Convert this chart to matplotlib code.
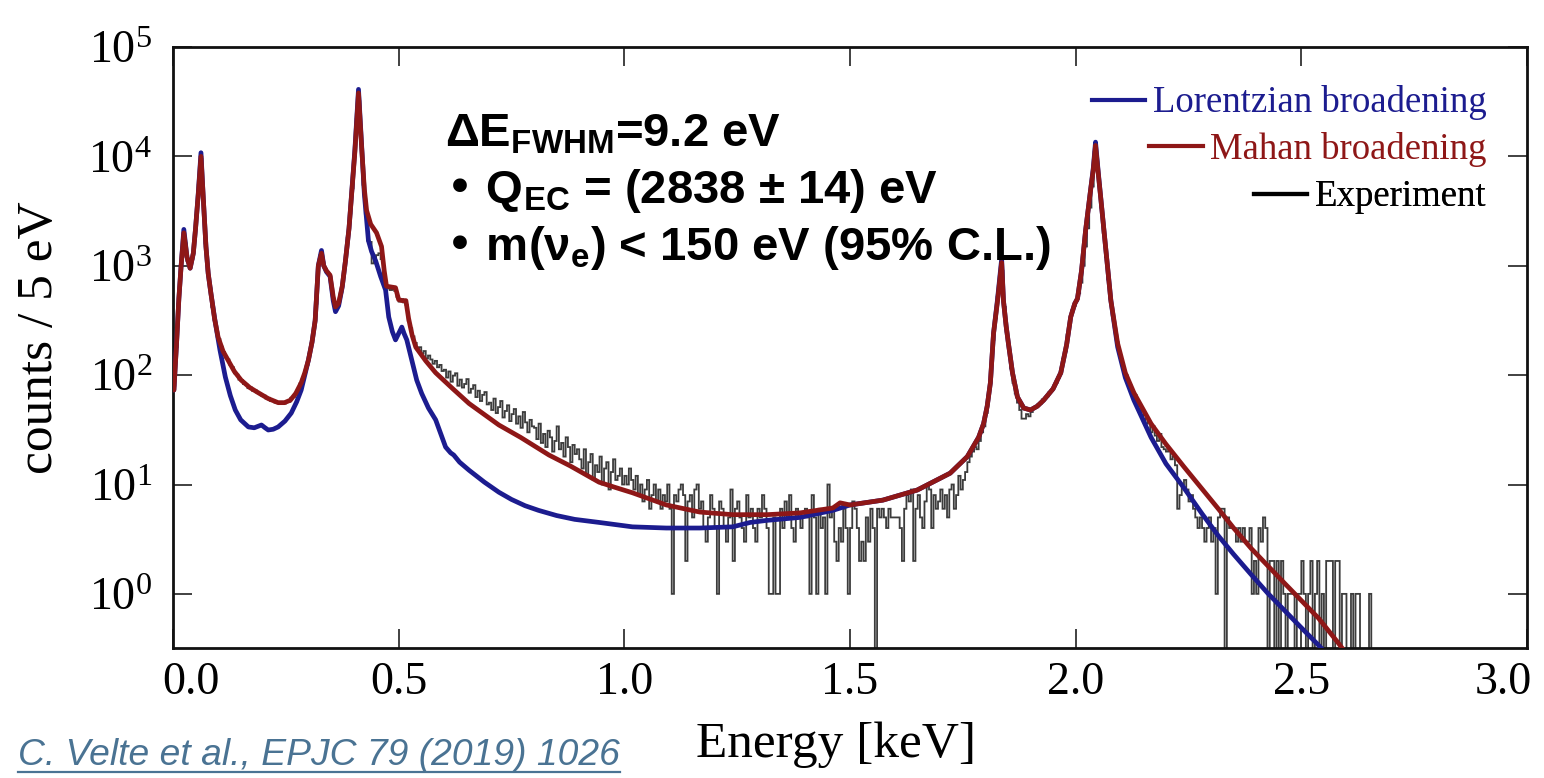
import numpy as np
import matplotlib
matplotlib.use("Agg")
import matplotlib.pyplot as plt
import matplotlib.transforms as mtransforms
from matplotlib.ticker import FixedLocator, NullLocator, FormatStrFormatter
from matplotlib.lines import Line2D

# ---------------------------------------------------------------------------
# Model curves (energy in keV, counts per 5 eV)
# ---------------------------------------------------------------------------
mahan_energy = [
    0.002, 0.008, 0.013, 0.018, 0.024, 0.031, 0.038, 0.045, 0.050, 0.056,
    0.062, 0.067, 0.073, 0.078, 0.084, 0.092, 0.100, 0.111, 0.122, 0.136,
    0.151, 0.170, 0.189, 0.211, 0.233, 0.247, 0.260, 0.272, 0.284, 0.292,
    0.300, 0.308, 0.315, 0.322, 0.329, 0.334, 0.340, 0.348, 0.355, 0.360,
    0.367, 0.375, 0.382, 0.390, 0.396, 0.403, 0.411, 0.418, 0.424, 0.429,
    0.438, 0.451, 0.462, 0.468, 0.473, 0.483, 0.493, 0.500, 0.508, 0.516,
    0.522, 0.530, 0.538, 0.560, 0.582, 0.620, 0.656, 0.722, 0.770, 0.833,
    0.880, 0.944, 0.980, 1.018, 1.093, 1.167, 1.240, 1.316, 1.389, 1.462,
    1.478, 1.500, 1.573, 1.649, 1.722, 1.760, 1.785, 1.796, 1.804, 1.811,
    1.818, 1.827, 1.836, 1.840, 1.846, 1.851, 1.860, 1.871, 1.885, 1.900,
    1.915, 1.929, 1.950, 1.967, 1.980, 1.989, 1.998, 2.004, 2.013, 2.022,
    2.033, 2.039, 2.044, 2.050, 2.056, 2.067, 2.078, 2.093, 2.110, 2.129,
    2.167, 2.200, 2.240, 2.280, 2.316, 2.350, 2.389, 2.425, 2.462, 2.500,
    2.538, 2.582, 2.620,
]
mahan_counts = [
    73, 200, 500, 1000, 2000, 1200, 950, 1300, 2200, 4500,
    10000, 4200, 1500, 850, 560, 330, 222, 165, 137, 108,
    90, 77, 69, 61, 56, 56, 59, 68, 85, 105,
    137, 200, 316, 1000, 1300, 1000, 900, 820, 520, 420,
    455, 650, 1100, 2200, 4600, 11000, 38000, 12000, 5000, 3200,
    2400, 2000, 1500, 900, 650, 640, 630, 490, 480, 480,
    330, 230, 180, 135, 105, 75, 55, 35, 27, 18.6,
    14.8, 10.5, 9.4, 8.4, 6.5, 5.6, 5.3, 5.3, 5.5, 6.1,
    6.8, 6.5, 7.2, 8.9, 12.7, 18, 27, 36, 52, 85,
    240, 480, 1070, 480, 280, 195, 105, 63, 50, 48,
    52, 59, 75, 105, 190, 340, 450, 500, 900, 2100,
    4900, 7500, 12600, 7000, 4000, 1400, 480, 195, 105, 69,
    36, 23.4, 14.5, 9.1, 6.0, 4.0, 2.6, 1.82, 1.26, 0.87,
    0.60, 0.355, 0.22,
]

lorentz_energy = [
    0.002, 0.008, 0.013, 0.018, 0.024, 0.031, 0.038, 0.045, 0.050, 0.056,
    0.062, 0.067, 0.073, 0.078, 0.084, 0.093, 0.104, 0.116, 0.127, 0.138,
    0.150, 0.167, 0.180, 0.196, 0.204, 0.211, 0.222, 0.233, 0.248, 0.262,
    0.274, 0.284, 0.292, 0.300, 0.308, 0.315, 0.322, 0.329, 0.334, 0.340,
    0.348, 0.355, 0.360, 0.367, 0.375, 0.382, 0.390, 0.396, 0.403, 0.411,
    0.418, 0.424, 0.429, 0.433, 0.440, 0.449, 0.460, 0.471, 0.478, 0.486,
    0.493, 0.500, 0.507, 0.512, 0.518, 0.529, 0.540, 0.551, 0.566, 0.582,
    0.604, 0.615, 0.622, 0.635, 0.656, 0.690, 0.722, 0.750, 0.780, 0.810,
    0.850, 0.890, 0.944, 1.018, 1.093, 1.167, 1.240, 1.279, 1.316, 1.389,
    1.462, 1.484, 1.500, 1.573, 1.649, 1.722, 1.760, 1.785, 1.796, 1.804,
    1.811, 1.818, 1.827, 1.836, 1.840, 1.846, 1.851, 1.860, 1.871, 1.885,
    1.900, 1.915, 1.929, 1.950, 1.967, 1.980, 1.989, 1.998, 2.004, 2.013,
    2.022, 2.033, 2.039, 2.044, 2.050, 2.056, 2.067, 2.078, 2.093, 2.110,
    2.129, 2.167, 2.200, 2.240, 2.280, 2.316, 2.350, 2.389, 2.425, 2.462,
    2.500, 2.538, 2.580,
]
lorentz_counts = [
    73, 200, 500, 1000, 2150, 1200, 950, 1300, 2200, 4600,
    10800, 4200, 1500, 850, 560, 316, 170, 96, 65, 48,
    39, 33.6, 33, 35, 33, 31.5, 32, 33.6, 38, 45,
    57, 73, 100, 137, 200, 316, 1000, 1380, 1000, 880,
    800, 480, 380, 430, 640, 1100, 2200, 4700, 11500, 41000,
    12500, 4500, 2600, 1700, 1350, 1110, 800, 600, 340, 250,
    210, 240, 275, 240, 210, 137, 90, 68, 50, 39,
    22, 19.5, 18.6, 16, 13.5, 10.5, 8.5, 7.3, 6.4, 5.8,
    5.2, 4.8, 4.5, 4.1, 4.0, 4.0, 4.1, 4.5, 4.7, 5.0,
    5.8, 6.2, 6.5, 7.2, 8.9, 12.7, 18, 27, 36, 52,
    85, 240, 500, 1150, 480, 280, 195, 105, 63, 50,
    48, 52, 59, 75, 105, 190, 340, 450, 500, 900,
    2100, 4900, 7800, 13500, 7200, 4000, 1400, 480, 181, 95,
    59, 27, 15.5, 9.3, 5.4, 3.4, 2.3, 1.5, 1.02, 0.71,
    0.49, 0.34, 0.22,
]

# ---------------------------------------------------------------------------
# Measured spectrum: counts in 5 eV bins from 0 to 2.7 keV (20 bins per row)
# ---------------------------------------------------------------------------
bin_width_kev = 0.005
experiment_counts = [
    80, 180, 450, 950, 1700, 1600, 1100, 960, 1150, 1700, 2900, 5500, 9500, 3900, 1600, 900, 620, 420, 320, 250,
    214, 182, 163, 145, 139, 124, 118, 104, 101, 91, 90, 83, 82, 76, 77, 72, 73, 69, 68, 65,
    65, 61, 62, 58, 59, 56, 57, 55, 57, 55, 58, 57, 62, 63, 69, 74, 84, 92, 108, 124,
    155, 195, 270, 450, 1000, 1250, 1080, 940, 870, 825, 620, 460, 430, 460, 570, 800, 1130, 1800, 3000, 5100,
    10000, 22000, 32000, 13000, 5500, 3000, 1700, 1650, 1050, 1150, 1250, 1300, 1150, 800, 650, 620, 600, 610, 590, 520,
    470, 495, 462, 440, 315, 268, 226, 197, 171, 180, 158, 166, 142, 151, 139, 127, 135, 118, 124, 109,
    112, 95, 108, 87, 99, 104, 80, 91, 77, 83, 92, 69, 75, 81, 63, 72, 58, 66, 70, 54,
    56, 48, 61, 45, 51, 58, 41, 47, 53, 38, 44, 49, 36, 42, 33, 46, 37, 30, 39, 34,
    33, 26, 36, 24, 29, 22, 31, 27, 20, 25, 34, 21, 24, 18, 27, 22, 16, 23, 19, 21,
    17, 14, 21, 12, 16, 19, 11, 15, 13, 18, 10, 14, 16, 9, 13, 17, 11, 12, 14, 10,
    12, 10, 14, 11, 9, 12, 8, 10, 7, 9, 11, 6, 8, 10, 7, 9, 6, 8, 7, 10,
    6, 1, 8, 7, 9, 10, 8, 2, 7, 8, 5, 9, 10, 6, 7, 4, 3, 5, 8, 6,
    4, 1, 7, 6, 4, 3, 5, 9, 2, 6, 7, 5, 4, 3, 8, 5, 6, 4, 3, 6,
    5, 8, 6, 4, 1, 1, 5, 1, 1, 6, 4, 7, 5, 8, 4, 3, 6, 5, 4, 5,
    6, 5, 1, 8, 5, 1, 6, 4, 5, 1, 10, 5, 6, 3, 2, 4, 3, 6, 4, 1,
    4, 7, 6, 4, 2, 3, 2, 5, 3, 6, 4, 0, 6, 5, 6, 5, 4, 6, 5, 5,
    5, 5, 4, 2, 6, 8, 7, 9, 2, 6, 8, 5, 4, 7, 10, 9, 4, 8, 6, 7,
    9, 6, 8, 5, 9, 10, 6, 8, 12, 9, 11, 13, 16, 18, 20, 22, 21, 25, 30, 34,
    45, 65, 95, 210, 330, 520, 850, 900, 420, 250, 170, 115, 85, 68, 56, 48, 40, 40, 44, 42,
    46, 49, 52, 54, 55, 60, 62, 64, 70, 72, 80, 85, 95, 104, 140, 165, 235, 300, 390, 430,
    480, 560, 700, 1000, 1500, 2200, 3400, 5300, 11000, 9000, 5500, 3400, 2000, 1200, 750, 500, 350, 255, 200, 160,
    135, 110, 100, 86, 80, 70, 66, 57, 54, 47, 40, 36, 38, 30, 34, 28, 25, 29, 22, 21,
    20, 21, 17, 18, 15, 6, 8, 10, 11, 9, 7, 8, 6, 5, 4, 5, 4, 3, 4, 5,
    3, 4, 1, 5, 6, 6, 0, 5, 4, 4, 4, 3, 4, 3, 4, 3, 3, 4, 1, 2,
    1, 4, 3, 5, 4, 0, 2, 2, 0, 2, 0, 2, 1, 0, 1, 1, 1, 0, 1, 1,
    2, 1, 0, 1, 2, 0, 1, 2, 0, 1, 0, 2, 2, 2, 0, 2, 2, 0, 1, 1,
    0, 0, 1, 0, 1, 1, 0, 0, 0, 0, 1, 0, 0, 0, 0, 0, 0, 0, 0, 0,
]

x_ticks = [0.0, 0.5, 1.0, 1.5, 2.0, 2.5, 3.0]
y_ticks = [1e0, 1e1, 1e2, 1e3, 1e4, 1e5]

legend_labels = ["Lorentzian broadening", "Mahan broadening", "Experiment"]
info_lines = [
    r"$\mathdefault{ΔE_{FWHM}}$=9.2 eV",
    r"• $\mathdefault{Q_{EC}}$ = (2838 ± 14) eV",
    r"• m($\mathdefault{ν_{e}}$) < 150 eV (95% C.L.)",
]
citation = "C. Velte et al., EPJC 79 (2019) 1026"

# ---------------------------------------------------------------------------
# Style
# ---------------------------------------------------------------------------
BLUE = "#1c1c8f"
RED = "#8e1717"
GREY = "#3c3c3c"
CITE = "#4a7393"

plt.rcParams["font.family"] = ["Liberation Serif", "DejaVu Serif"]

W, H = 1544, 778
fig = plt.figure(figsize=(W / 100, H / 100), dpi=100)
ax = fig.add_axes([173 / W, 1 - 648 / H, (1527 - 173) / W, (648 - 47) / H])

edges = np.arange(len(experiment_counts) + 1) * bin_width_kev
ax.stairs(experiment_counts, edges, color=GREY, lw=1.3, baseline=None, zorder=2)
ax.plot(lorentz_energy, lorentz_counts, color=BLUE, lw=3.4, zorder=3,
        solid_joinstyle="round", solid_capstyle="round")
ax.plot(mahan_energy, mahan_counts, color=RED, lw=3.4, zorder=4,
        solid_joinstyle="round", solid_capstyle="round")

ax.set_yscale("log")
ax.set_xlim(0.0, 3.0)
ax.set_ylim(0.32, 1e5)

ax.xaxis.set_major_locator(FixedLocator(x_ticks))
ax.xaxis.set_major_formatter(FormatStrFormatter("%.1f"))
ax.xaxis.set_minor_locator(NullLocator())
ax.yaxis.set_major_locator(FixedLocator(y_ticks))
ax.yaxis.set_minor_locator(NullLocator())

ax.tick_params(axis="both", which="major", direction="in", length=14,
               width=1.3, color="#333333", labelsize=33, top=True, right=True)
ax.tick_params(axis="x", pad=10)
ax.tick_params(axis="y", pad=15)
for s in ax.spines.values():
    s.set_linewidth(2.0)
    s.set_color("#111111")

ax.set_xlabel("Energy [keV]", fontsize=37, va="center")
ax.xaxis.set_label_coords(836 / W, 1 - 745 / H, transform=fig.transFigure)
ax.set_ylabel("counts / 5 eV", fontsize=37, va="center")
ax.yaxis.set_label_coords(40 / W, 1 - 338 / H, transform=fig.transFigure)

# Legend: one right-aligned entry per row, label coloured like its line
handles = [
    Line2D([], [], color=BLUE, lw=3),
    Line2D([], [], color=RED, lw=3),
    Line2D([], [], color="black", lw=3),
]
rows_y = [0.907, 0.830, 0.750]
for h, lab, yy in zip(handles, legend_labels, rows_y):
    leg = ax.legend([h], [lab], loc="center right", bbox_to_anchor=(0.970, yy),
                    frameon=False, fontsize=26.5, handlelength=1.45,
                    handletextpad=0.2, borderpad=0, borderaxespad=0,
                    labelcolor="linecolor")
    ax.add_artist(leg)

# Fit summary
for txt, yb in zip(info_lines, [0.835, 0.740, 0.646]):
    ax.text(0.2009, yb, txt, transform=ax.transAxes, ha="left", va="baseline",
            fontsize=34, fontweight="bold",
            family=["Liberation Sans", "DejaVu Sans"], color="black", zorder=6)

# Reference, underlined
cite = fig.text(18 / W, 1 - 765 / H, citation, ha="left", va="baseline",
                fontsize=26.8, style="italic",
                family=["Liberation Sans", "DejaVu Sans"], color=CITE)
fig.canvas.draw()
bb = cite.get_window_extent()
fig.add_artist(Line2D([bb.x0 / W, bb.x1 / W], [1 - 772 / H, 1 - 772 / H],
                      transform=fig.transFigure, color=CITE, lw=1.6))

# first energy label nudged right of the corner, last one kept inside
shifts_px = [18, 0, 0, 0, 0, 0, -24]
for tick, dx in zip(ax.xaxis.get_major_ticks(), shifts_px):
    off = mtransforms.ScaledTranslation(dx / 100, 0, fig.dpi_scale_trans)
    tick.label1.set_transform(tick.label1.get_transform() + off)

fig.savefig("out.png", dpi=100)
